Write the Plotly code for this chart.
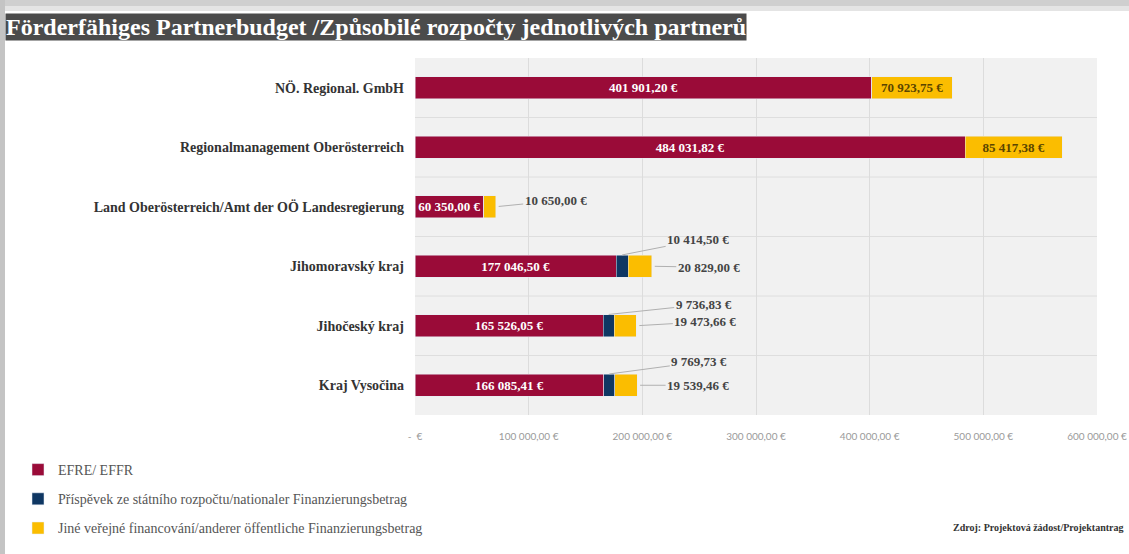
import plotly.graph_objects as go

partners = [
    "NÖ. Regional. GmbH",
    "Regionalmanagement Oberösterreich",
    "Land Oberösterreich/Amt der OÖ Landesregierung",
    "Jihomoravský kraj",
    "Jihočeský kraj",
    "Kraj Vysočina",
]
efre = [401901.20, 484031.82, 60350.00, 177046.50, 165526.05, 166085.41]
national = [0, 0, 0, 10414.50, 9736.83, 9769.73]
other = [70923.75, 85417.38, 10650.00, 20829.00, 19473.66, 19539.46]

series_names = [
    "EFRE/ EFFR",
    "Příspěvek ze státního rozpočtu/nationaler Finanzierungsbetrag",
    "Jiné veřejné financování/anderer öffentliche Finanzierungsbetrag",
]
tick_vals = [0, 100000, 200000, 300000, 400000, 500000, 600000]
tick_text = ["-  €", "100 000,00 €", "200 000,00 €", "300 000,00 €",
             "400 000,00 €", "500 000,00 €", "600 000,00 €"]

W, H = 1129, 554
ML, MR, MT, MB = 415, 32, 58, 139
PW, PH = W - ML - MR, H - MT - MB

RED, NAVY, GOLD = "#9a0b38", "#0f3763", "#fbbd00"
SERIF = "Liberation Serif"


def fmt(v):
    return f"{v:,.2f}".replace(",", " ").replace(".", ",") + " €"


def px_x(p):
    return (p - ML) / PW


def px_y(p):
    return (MT + PH - p) / PH


fig = go.Figure()

fig.add_trace(go.Bar(
    y=partners, x=efre, orientation="h", name=series_names[0],
    marker=dict(color=RED), legendgroup="a",
    text=[fmt(v) for v in efre], textposition="inside",
    insidetextanchor="middle", constraintext="none",
    textfont=dict(family=SERIF, size=13, color="white", weight="bold"),
))
fig.add_trace(go.Bar(
    y=partners, x=national, orientation="h", name=series_names[1],
    marker=dict(color=NAVY), legendgroup="b", textposition="none",
))
# only the two big bars carry their label inside the yellow part
inside_other = [fmt(v) if v > 50000 else "" for v in other]
fig.add_trace(go.Bar(
    y=partners, x=other, orientation="h", name=series_names[2],
    marker=dict(color=GOLD), legendgroup="c",
    text=inside_other, textposition="inside",
    insidetextanchor="middle", constraintext="none",
    textfont=dict(family=SERIF, size=13, color="#5a4500", weight="bold"),
))

annotations = []
lab_font = dict(family=SERIF, size=13, color="#444444", weight="bold")
line_col = "#b0b0b0"

# leader-line labels: (value x, category index, pixel offsets)
for i in range(2, 6):
    tot = efre[i] + national[i] + other[i]
    offs = {2: (60, -6), 3: (57, 1), 4: (69, -4), 5: (61, 0)}[i]
    annotations.append(dict(
        x=tot, y=i, xref="x", yref="y", text=fmt(other[i]),
        showarrow=True, arrowhead=0, arrowwidth=1, arrowcolor=line_col,
        ax=offs[0], ay=offs[1], standoff=3, font=lab_font,
    ))
    if national[i] > 0:
        noffs = {3: (76, -15), 4: (95, -10), 5: (90, -12)}[i]
        annotations.append(dict(
            x=efre[i] + national[i] / 2, y=i - 0.19, xref="x", yref="y",
            text=fmt(national[i]),
            showarrow=True, arrowhead=0, arrowwidth=1, arrowcolor=line_col,
            ax=noffs[0], ay=noffs[1], standoff=0, font=lab_font,
        ))

# title bar
annotations.append(dict(
    xref="paper", yref="paper", x=px_x(5), y=px_y(13),
    xanchor="left", yanchor="top", showarrow=False,
    text="Förderfähiges Partnerbudget /Způsobilé rozpočty jednotlivých partnerů",
    font=dict(family=SERIF, size=24, color="white", weight="bold"),
    bgcolor="#4b4b4b", borderpad=0,
))
# source
annotations.append(dict(
    xref="paper", yref="paper", x=px_x(1126), y=px_y(527),
    xanchor="right", yanchor="middle", showarrow=False,
    text="Zdroj: Projektová žádost/Projektantrag",
    font=dict(family=SERIF, size=10, color="#333333", weight="bold"),
))

shapes = [
    # card shadow: top and left edges
    dict(type="rect", xref="paper", yref="paper", layer="below",
         x0=px_x(0), x1=px_x(W), y0=px_y(0), y1=px_y(6),
         fillcolor="#cfcfcf", line=dict(width=0)),
    dict(type="rect", xref="paper", yref="paper", layer="below",
         x0=px_x(0), x1=px_x(W), y0=px_y(6), y1=px_y(11),
         fillcolor="#e4e4e4", line=dict(width=0)),
    dict(type="rect", xref="paper", yref="paper", layer="below",
         x0=px_x(0), x1=px_x(5), y0=px_y(0), y1=px_y(H),
         fillcolor="#c4c4c4", line=dict(width=0)),
]
for k in range(len(partners) - 1):
    shapes.append(dict(
        type="line", xref="paper", yref="y", x0=0, x1=1, y0=k + 0.5, y1=k + 0.5,
        line=dict(color="#dedede", width=1), layer="below",
    ))

fig.update_layout(
    width=W, height=H,
    margin=dict(l=ML, r=MR, t=MT, b=MB, autoexpand=False),
    barmode="stack", bargap=0.63,
    paper_bgcolor="white", plot_bgcolor="#f1f1f1",
    font=dict(family=SERIF, color="#333333"),
    xaxis=dict(
        range=[0, 600000], tickvals=tick_vals, ticktext=tick_text,
        showgrid=True, gridcolor="#dcdcdc", gridwidth=1, zeroline=False,
        tickfont=dict(family="Lato", size=10, color="#9a9a9a"),
        ticklabelstandoff=14, automargin=False,
    ),
    yaxis=dict(
        autorange="reversed", showgrid=False, automargin=False,
        tickfont=dict(family=SERIF, size=14, color="#333333", weight="bold"),
        ticklabelstandoff=10,
    ),
    showlegend=True,
    legend=dict(
        x=px_x(18), y=px_y(454), xanchor="left", yanchor="top",
        traceorder="grouped", tracegroupgap=8, itemwidth=30,
        font=dict(family=SERIF, size=14, color="#555555"),
        bgcolor="rgba(0,0,0,0)",
    ),
    annotations=annotations,
    shapes=shapes,
)

fig.write_html(
    "out.html",
    config={"displayModeBar": False},
    post_script="document.body.style.margin='0';document.body.style.overflow='hidden';",
)
